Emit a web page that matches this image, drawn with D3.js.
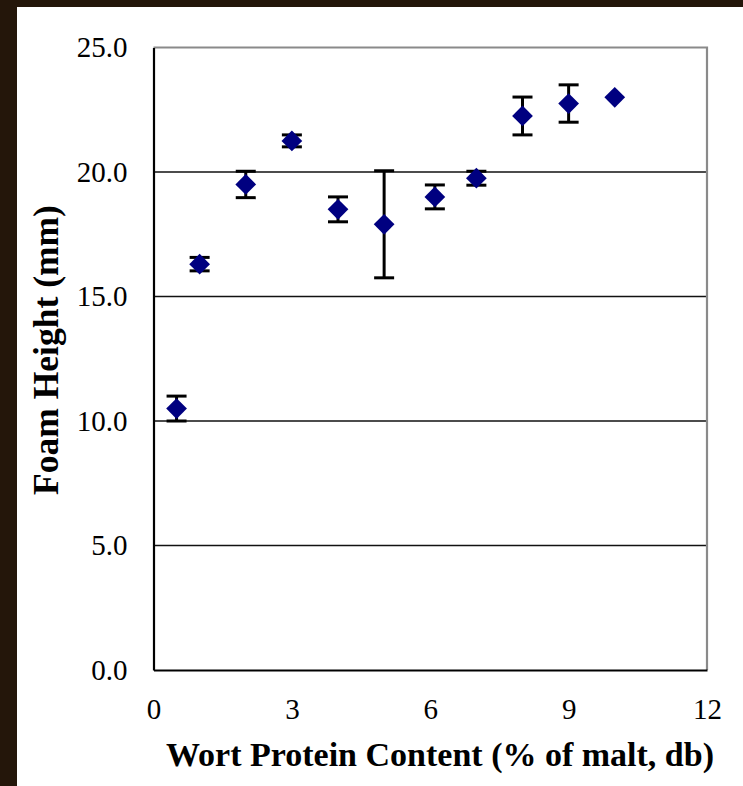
<!DOCTYPE html>
<html>
<head>
<meta charset="utf-8">
<script src="https://cdn.jsdelivr.net/npm/d3@7"></script>
<style>
  html, body { margin: 0; padding: 0; background: #24160a; }
  svg { display: block; }
</style>
</head>
<body>
<svg class="chart"></svg>
<script>
// Data
const PROTEIN = [0.5, 1, 2, 3, 4, 5, 6.1, 7, 8, 9, 10];
const FOAM_HEIGHT = [10.5, 16.3, 19.5, 21.25, 18.5, 17.9, 19.0, 19.75, 22.25, 22.75, 23.0];
const FOAM_ERROR = [0.5, 0.27, 0.53, 0.24, 0.5, 2.15, 0.48, 0.28, 0.76, 0.75, 0];
const X_TICKS = [0, 3, 6, 9, 12];
const Y_TICKS = [0, 5, 10, 15, 20, 25];

const WIDTH = 743;
const HEIGHT = 786;
const MARGINS = { top: 47.5, right: 36, bottom: 116, left: 153.5 };
const CHART_W = WIDTH - MARGINS.left - MARGINS.right;
const CHART_H = HEIGHT - MARGINS.top - MARGINS.bottom;
const SERIF = "'Liberation Serif', 'Times New Roman', serif";

const svg = d3.select(".chart").attr("width", WIDTH).attr("height", HEIGHT);

// dark frame, white slide area
svg.append("rect").attr("width", WIDTH).attr("height", HEIGHT).attr("fill", "#24160a");
svg.append("rect").attr("x", 17).attr("y", 7).attr("width", WIDTH - 17).attr("height", HEIGHT - 7).attr("fill", "#fff");

const X_fxn = d3.scaleLinear().domain([0, 12]).range([0, CHART_W]);
const Y_fxn = d3.scaleLinear().domain([0, 25]).range([CHART_H, 0]);

const g = svg.append("g").attr("transform", `translate(${MARGINS.left},${MARGINS.top})`);

// gridlines
g.append("g").selectAll("line")
  .data(Y_TICKS.filter(d => d > 0 && d < 25))
  .join("line")
  .attr("x1", 0).attr("x2", CHART_W)
  .attr("y1", d => Y_fxn(d)).attr("y2", d => Y_fxn(d))
  .attr("stroke", "#111").attr("stroke-width", 1.6);

// top and right border in grey
g.append("path")
  .attr("d", `M0,${Y_fxn(25)}H${CHART_W}V${CHART_H}`)
  .attr("fill", "none").attr("stroke", "#8a8a8a").attr("stroke-width", 2.2);

// axes
const yAxis = g.append("g")
  .call(d3.axisLeft(Y_fxn).tickValues(Y_TICKS).tickFormat(d3.format(".1f")).tickSize(0).tickPadding(26));
const xAxis = g.append("g")
  .attr("transform", `translate(0,${CHART_H})`)
  .call(d3.axisBottom(X_fxn).tickValues(X_TICKS).tickFormat(d3.format("d")).tickSize(0).tickPadding(28));

[xAxis, yAxis].forEach(a => {
  a.select(".domain").attr("stroke", "#000").attr("stroke-width", 2.2);
  a.selectAll("text").attr("font-family", SERIF).attr("font-size", 29).attr("fill", "#000");
});

// error bars
const points = PROTEIN.map((x, i) => ({ x: x, y: FOAM_HEIGHT[i], e: FOAM_ERROR[i] }));
const bars = g.append("g").selectAll("g")
  .data(points.filter(d => d.e > 0))
  .join("g")
  .attr("stroke", "#000").attr("stroke-width", 3);
bars.append("line")
  .attr("x1", d => X_fxn(d.x)).attr("x2", d => X_fxn(d.x))
  .attr("y1", d => Y_fxn(d.y + d.e)).attr("y2", d => Y_fxn(d.y - d.e));
bars.append("line")
  .attr("x1", d => X_fxn(d.x) - 10).attr("x2", d => X_fxn(d.x) + 10)
  .attr("y1", d => Y_fxn(d.y + d.e)).attr("y2", d => Y_fxn(d.y + d.e));
bars.append("line")
  .attr("x1", d => X_fxn(d.x) - 10).attr("x2", d => X_fxn(d.x) + 10)
  .attr("y1", d => Y_fxn(d.y - d.e)).attr("y2", d => Y_fxn(d.y - d.e));

// diamond markers
g.append("g").selectAll("path")
  .data(points)
  .join("path")
  .attr("d", d3.symbol().type(d3.symbolSquare).size(215))
  .attr("transform", d => `translate(${X_fxn(d.x)},${Y_fxn(d.y)}) rotate(45)`)
  .attr("fill", "#000080");

// axis titles
svg.append("text")
  .attr("x", 440).attr("y", 766)
  .attr("text-anchor", "middle")
  .attr("font-family", SERIF).attr("font-weight", "bold").attr("font-size", 34)
  .text("Wort Protein Content (% of malt, db)");

svg.append("text")
  .attr("transform", "translate(58,350) rotate(-90)")
  .attr("text-anchor", "middle")
  .attr("font-family", SERIF).attr("font-weight", "bold").attr("font-size", 35.5)
  .text("Foam Height (mm)");
</script>
</body>
</html>
